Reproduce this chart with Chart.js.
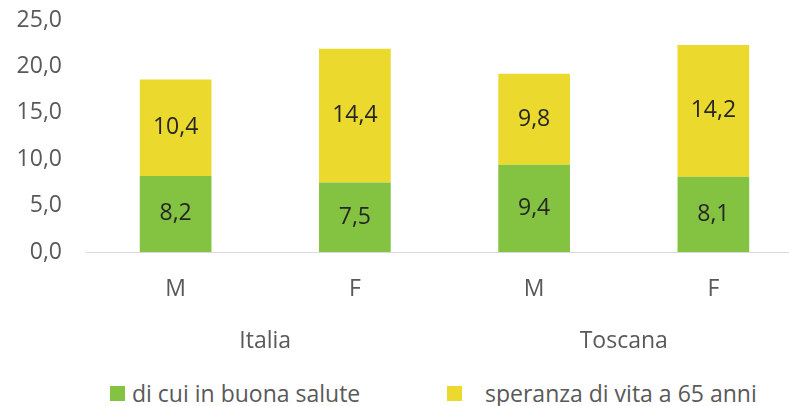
<!DOCTYPE html>
<html lang="it">
<head>
    <meta charset="UTF-8">
    <title>Speranza di vita a 65 anni</title>
    <style>
        html, body { margin: 0; padding: 0; background: #fff; overflow: hidden; }
        .wrap { position: relative; width: 803px; height: 406px; }
        #myChart { position: absolute; left: 0; top: 0; }
        .legend { position: absolute; top: 379px; left: 0; font-family: "Open Sans", sans-serif; font-size: 23px; color: #595959; }
        .legend span { position: absolute; white-space: nowrap; line-height: 28px; }
        .legend i { position: absolute; width: 15px; height: 15px; top: 7px; }
    </style>
</head>
<body>
    <div class="wrap">
        <canvas id="myChart" width="803" height="362"></canvas>
        <!-- legenda fatta a mano per posizionarla come nell'originale -->
        <div class="legend" id="legend"></div>
    </div>

    <script src="https://cdn.jsdelivr.net/npm/chart.js"></script>
    <script>
        const sesso = ['M', 'F', 'M', 'F'];
        const territori = ['Italia', 'Toscana'];
        const buonaSalute = [8.2, 7.5, 9.4, 8.1];
        const speranzaVita = [10.4, 14.4, 9.8, 14.2];
        const serieNomi = ['di cui in buona salute', 'speranza di vita a 65 anni'];
        const colori = ['#84c341', '#ebd92d'];

        const fmt = v => Number(v).toFixed(1).replace('.', ',');
        const FONT = 23;

        // etichette dei valori al centro di ogni segmento
        const valueLabels = {
            id: 'valueLabels',
            afterDatasetsDraw(chart) {
                const ctx = chart.ctx;
                ctx.save();
                ctx.font = FONT + 'px "Open Sans", sans-serif';
                ctx.fillStyle = '#262626';
                ctx.textAlign = 'center';
                ctx.textBaseline = 'middle';
                chart.data.datasets.forEach((ds, i) => {
                    chart.getDatasetMeta(i).data.forEach((bar, j) => {
                        ctx.fillText(fmt(ds.data[j]), bar.x, (bar.y + bar.base) / 2);
                    });
                });
                ctx.restore();
            }
        };

        const tickFont = { family: 'Open Sans', size: FONT, lineHeight: 1.2 };

        const chart = new Chart(document.getElementById('myChart'), {
            type: 'bar',
            data: {
                labels: sesso,
                datasets: [
                    { label: serieNomi[0], data: buonaSalute, backgroundColor: colori[0] },
                    { label: serieNomi[1], data: speranzaVita, backgroundColor: colori[1] }
                ]
            },
            options: {
                responsive: false,
                animation: false,
                devicePixelRatio: 1,
                layout: { autoPadding: false, padding: { top: 20, right: 0, bottom: 6, left: 0 } },
                datasets: { bar: { barPercentage: 0.4, categoryPercentage: 1 } },
                plugins: {
                    legend: { display: false },
                    tooltip: { enabled: false }
                },
                scales: {
                    x: {
                        stacked: true,
                        grid: { display: false, drawTicks: false },
                        border: { display: true, color: '#d9d9d9', width: 1 },
                        ticks: { color: '#595959', font: tickFont, padding: 24, maxRotation: 0 },
                        afterFit: scale => { scale.height = 52; }
                    },
                    x2: {
                        type: 'category',
                        labels: territori,
                        position: 'bottom',
                        grid: { display: false, drawTicks: false },
                        border: { display: false },
                        ticks: { color: '#595959', font: tickFont, padding: 24, maxRotation: 0 },
                        afterFit: scale => { scale.height = 52; }
                    },
                    y: {
                        stacked: true,
                        min: 0,
                        max: 25,
                        grid: { display: false, drawTicks: false },
                        border: { display: false },
                        ticks: {
                            stepSize: 5,
                            color: '#595959',
                            font: tickFont,
                            padding: 24,
                            callback: v => fmt(v)
                        },
                        afterFit: scale => {
                            scale.width = 86;
                            scale.paddingTop = 0;
                            scale.paddingBottom = 0;
                        }
                    }
                }
            },
            plugins: [valueLabels]
        });

        // legenda
        const legend = document.getElementById('legend');
        const pos = [{ box: 110, text: 132 }, { box: 447, text: 485 }];
        serieNomi.forEach((nome, i) => {
            const box = document.createElement('i');
            box.style.left = pos[i].box + 'px';
            box.style.background = colori[i];
            const txt = document.createElement('span');
            txt.style.left = pos[i].text + 'px';
            txt.textContent = nome;
            legend.appendChild(box);
            legend.appendChild(txt);
        });
    </script>
</body>
</html>
